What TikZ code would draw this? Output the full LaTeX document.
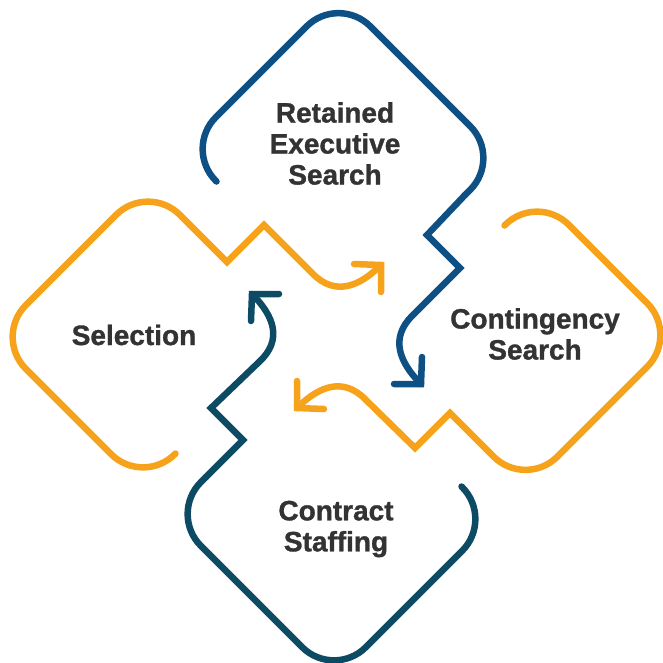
\documentclass[tikz,border=0pt]{standalone}
\usepackage{fontspec}
\setmainfont{Liberation Sans}[BoldFeatures={FakeBold=1.2}]
\definecolor{tblue}{HTML}{0E4F84}
\definecolor{tteal}{HTML}{0D4A64}
\definecolor{torange}{HTML}{F6A31B}
\definecolor{ttext}{HTML}{333333}
\begin{document}
\begin{tikzpicture}[x=1pt,y=-1pt,
  loopline/.style={line width=6.5pt, line cap=round, line join=round, rounded corners=45pt},
  zigline/.style={line width=6.5pt, line cap=round, line join=miter},
  headline/.style={line width=6.5pt, line cap=round, line join=miter},
  lbl/.style={font=\bfseries\fontsize{28}{31}\selectfont, text=ttext, align=center, inner sep=0pt}]
\useasboundingbox (0,0) rectangle (663,662);
% ---------- Top (blue) ----------
\coordinate (TS) at (216.5,181.5);
\coordinate (TL) at (184,149);
\coordinate (TT) at (338.5,-5.5);
\coordinate (TR) at (502,158);
\coordinate (TM) at (465,195);
\coordinate (TZ1) at (427,235);
\coordinate (TZ2) at (460,268);
\coordinate (TP) at (412,316);
\coordinate (TC1) at (390,338);
\coordinate (TC2) at (399,362);
\coordinate (TH) at (421,384);
\coordinate (TA1) at (422,357);
\coordinate (TA2) at (394,384);
\draw[loopline, tblue] (TS) -- (TL) -- (TT) -- (TR) -- (TM);
\draw[zigline, tblue] (TM) -- (TZ1) -- (TZ2) -- (TP) .. controls (TC1) and (TC2) .. (TH);
\draw[headline, tblue] (TA1) -- (TH) -- (TA2);
% ---------- Left (orange) ----------
\coordinate (LS) at (175.5,453.5);
\coordinate (LB) at (143,486);
\coordinate (LL) at (-6,337);
\coordinate (LT) at (148,183);
\coordinate (LM) at (190,225);
\coordinate (LZ1) at (227,262);
\coordinate (LZ2) at (264,225);
\coordinate (LP) at (313,274);
\coordinate (LC1) at (335,296);
\coordinate (LC2) at (359,287);
\coordinate (LH) at (381,265);
\coordinate (LA1) at (354,264);
\coordinate (LA2) at (381,292);
\draw[loopline, torange] (LS) -- (LB) -- (LL) -- (LT) -- (LM);
\draw[zigline, torange] (LM) -- (LZ1) -- (LZ2) -- (LP) .. controls (LC1) and (LC2) .. (LH);
\draw[headline, torange] (LA1) -- (LH) -- (LA2);
% ---------- Right (orange) ----------
\coordinate (RS) at (504.5,225.5);
\coordinate (RT) at (537,193);
\coordinate (RR) at (679,335);
\coordinate (RB) at (525.5,488.5);
\coordinate (RM) at (488,451);
\coordinate (RZ1) at (450,413);
\coordinate (RZ2) at (415,448);
\coordinate (RP) at (365,399);
\coordinate (RC1) at (343,377);
\coordinate (RC2) at (319,386);
\coordinate (RH) at (297,408);
\coordinate (RA1) at (324,409);
\coordinate (RA2) at (297,381);
\draw[loopline, torange] (RS) -- (RT) -- (RR) -- (RB) -- (RM);
\draw[zigline, torange] (RM) -- (RZ1) -- (RZ2) -- (RP) .. controls (RC1) and (RC2) .. (RH);
\draw[headline, torange] (RA1) -- (RH) -- (RA2);
% ---------- Bottom (teal) ----------
\coordinate (BS) at (461.5,486.5);
\coordinate (BR) at (494,519);
\coordinate (BB) at (334,679);
\coordinate (BL) at (169,514);
\coordinate (BM) at (206,477);
\coordinate (BZ1) at (243,440);
\coordinate (BZ2) at (211,408);
\coordinate (BP) at (259,362);
\coordinate (BC1) at (283,340);
\coordinate (BC2) at (274,316);
\coordinate (BH) at (252,294);
\coordinate (BA1) at (251,321);
\coordinate (BA2) at (279,294);
\draw[loopline, tteal] (BS) -- (BR) -- (BB) -- (BL) -- (BM);
\draw[zigline, tteal] (BM) -- (BZ1) -- (BZ2) -- (BP) .. controls (BC1) and (BC2) .. (BH);
\draw[headline, tteal] (BA1) -- (BH) -- (BA2);
% ---------- Labels ----------
\node[lbl] (tT) at (335,143.5) {Retained\\Executive\\Search};
\node[lbl] (tL) at (134,335) {Selection};
\node[lbl] (tR) at (535,334) {Contingency\\Search};
\node[lbl] (tB) at (336,529) {Contract\\Staffing};
\end{tikzpicture}
\end{document}
